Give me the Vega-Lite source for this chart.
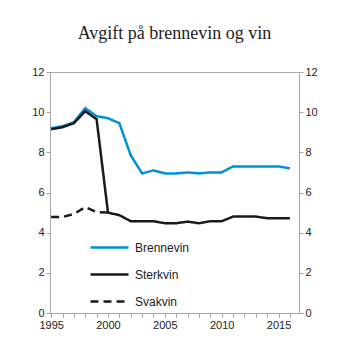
{
  "$schema": "https://vega.github.io/schema/vega-lite/v6.json",
  "width": 249,
  "height": 241,
  "autosize": {"type": "none"},
  "padding": {"left": 50, "top": 72, "right": 54, "bottom": 40},
  "background": "white",
  "title": {"text": "Avgift på brennevin og vin", "font": "Liberation Serif", "fontSize": 18, "fontWeight": "normal", "color": "#222", "anchor": "middle", "offset": 23},
  "config": {
    "view": {"stroke": "#a6a6a6", "strokeWidth": 1},
    "axis": {"grid": false, "domainColor": "#a6a6a6", "tickColor": "#a6a6a6", "labelFont": "Liberation Sans", "labelFontSize": 11, "labelColor": "#222", "tickSize": 4, "title": null}
  },
  "data": {"values": [
    {"year": 1995, "series": "Brennevin", "value": 9.2},
    {"year": 1996, "series": "Brennevin", "value": 9.3},
    {"year": 1997, "series": "Brennevin", "value": 9.5},
    {"year": 1998, "series": "Brennevin", "value": 10.2},
    {"year": 1999, "series": "Brennevin", "value": 9.8},
    {"year": 2000, "series": "Brennevin", "value": 9.7},
    {"year": 2001, "series": "Brennevin", "value": 9.45},
    {"year": 2002, "series": "Brennevin", "value": 7.85},
    {"year": 2003, "series": "Brennevin", "value": 6.95},
    {"year": 2004, "series": "Brennevin", "value": 7.1},
    {"year": 2005, "series": "Brennevin", "value": 6.95},
    {"year": 2006, "series": "Brennevin", "value": 6.95},
    {"year": 2007, "series": "Brennevin", "value": 7.0},
    {"year": 2008, "series": "Brennevin", "value": 6.95},
    {"year": 2009, "series": "Brennevin", "value": 7.0},
    {"year": 2010, "series": "Brennevin", "value": 7.0},
    {"year": 2011, "series": "Brennevin", "value": 7.3},
    {"year": 2012, "series": "Brennevin", "value": 7.3},
    {"year": 2013, "series": "Brennevin", "value": 7.3},
    {"year": 2014, "series": "Brennevin", "value": 7.3},
    {"year": 2015, "series": "Brennevin", "value": 7.3},
    {"year": 2016, "series": "Brennevin", "value": 7.2},
    {"year": 1995, "series": "Sterkvin", "value": 9.15},
    {"year": 1996, "series": "Sterkvin", "value": 9.25},
    {"year": 1997, "series": "Sterkvin", "value": 9.45},
    {"year": 1998, "series": "Sterkvin", "value": 10.05},
    {"year": 1999, "series": "Sterkvin", "value": 9.65},
    {"year": 2000, "series": "Sterkvin", "value": 5.0},
    {"year": 2001, "series": "Sterkvin", "value": 4.87},
    {"year": 2002, "series": "Sterkvin", "value": 4.57},
    {"year": 2003, "series": "Sterkvin", "value": 4.57},
    {"year": 2004, "series": "Sterkvin", "value": 4.57},
    {"year": 2005, "series": "Sterkvin", "value": 4.47},
    {"year": 2006, "series": "Sterkvin", "value": 4.47},
    {"year": 2007, "series": "Sterkvin", "value": 4.55},
    {"year": 2008, "series": "Sterkvin", "value": 4.47},
    {"year": 2009, "series": "Sterkvin", "value": 4.57},
    {"year": 2010, "series": "Sterkvin", "value": 4.57},
    {"year": 2011, "series": "Sterkvin", "value": 4.8},
    {"year": 2012, "series": "Sterkvin", "value": 4.8},
    {"year": 2013, "series": "Sterkvin", "value": 4.8},
    {"year": 2014, "series": "Sterkvin", "value": 4.72},
    {"year": 2015, "series": "Sterkvin", "value": 4.72},
    {"year": 2016, "series": "Sterkvin", "value": 4.72},
    {"year": 1995, "series": "Svakvin", "value": 4.78},
    {"year": 1996, "series": "Svakvin", "value": 4.78},
    {"year": 1997, "series": "Svakvin", "value": 4.93},
    {"year": 1998, "series": "Svakvin", "value": 5.27},
    {"year": 1999, "series": "Svakvin", "value": 5.02},
    {"year": 2000, "series": "Svakvin", "value": 5.0}
  ]},
  "encoding": {
    "x": {"field": "year", "type": "quantitative", "scale": {"domain": [1994.9, 2016.8], "nice": false, "zero": false},
      "axis": {"values": [1995,1996,1997,1998,1999,2000,2001,2002,2003,2004,2005,2006,2007,2008,2009,2010,2011,2012,2013,2014,2015,2016], "labelExpr": "datum.value % 5 === 0 ? datum.value : ''", "format": "d", "labelPadding": 2}}
  },
  "layer": [
    {
      "mark": {"type": "line", "strokeWidth": 2.5},
      "encoding": {
        "y": {"field": "value", "type": "quantitative", "scale": {"domain": [0, 12], "nice": false}, "axis": {"orient": "left", "values": [0,2,4,6,8,10,12]}},
        "color": {"field": "series", "type": "nominal", "scale": {"domain": ["Brennevin", "Sterkvin", "Svakvin"], "range": ["#0092d4", "#1a1a1a", "#1a1a1a"]},
          "legend": {"title": null, "orient": "none", "legendX": 39, "legendY": 155, "symbolType": "stroke", "symbolSize": 1444, "symbolStrokeWidth": 2.5, "labelFont": "Liberation Sans", "labelFontSize": 12, "labelColor": "#222", "labelOffset": 5, "rowPadding": -15}},
        "strokeDash": {"field": "series", "type": "nominal", "scale": {"domain": ["Brennevin", "Sterkvin", "Svakvin"], "range": [[1, 0], [1, 0], [8, 5]]}, "legend": {"title": null, "orient": "none", "legendX": 39, "legendY": 155, "symbolType": "stroke", "symbolSize": 1444, "symbolStrokeWidth": 2.5, "labelFont": "Liberation Sans", "labelFontSize": 12, "labelColor": "#222", "labelOffset": 5, "rowPadding": -15}}
      }
    },
    {
      "mark": {"type": "point", "opacity": 0},
      "encoding": {
        "y": {"field": "value", "type": "quantitative", "scale": {"domain": [0, 12], "nice": false}, "axis": {"orient": "right", "values": [0,2,4,6,8,10,12]}}
      }
    }
  ],
  "resolve": {"axis": {"y": "independent"}}
}
